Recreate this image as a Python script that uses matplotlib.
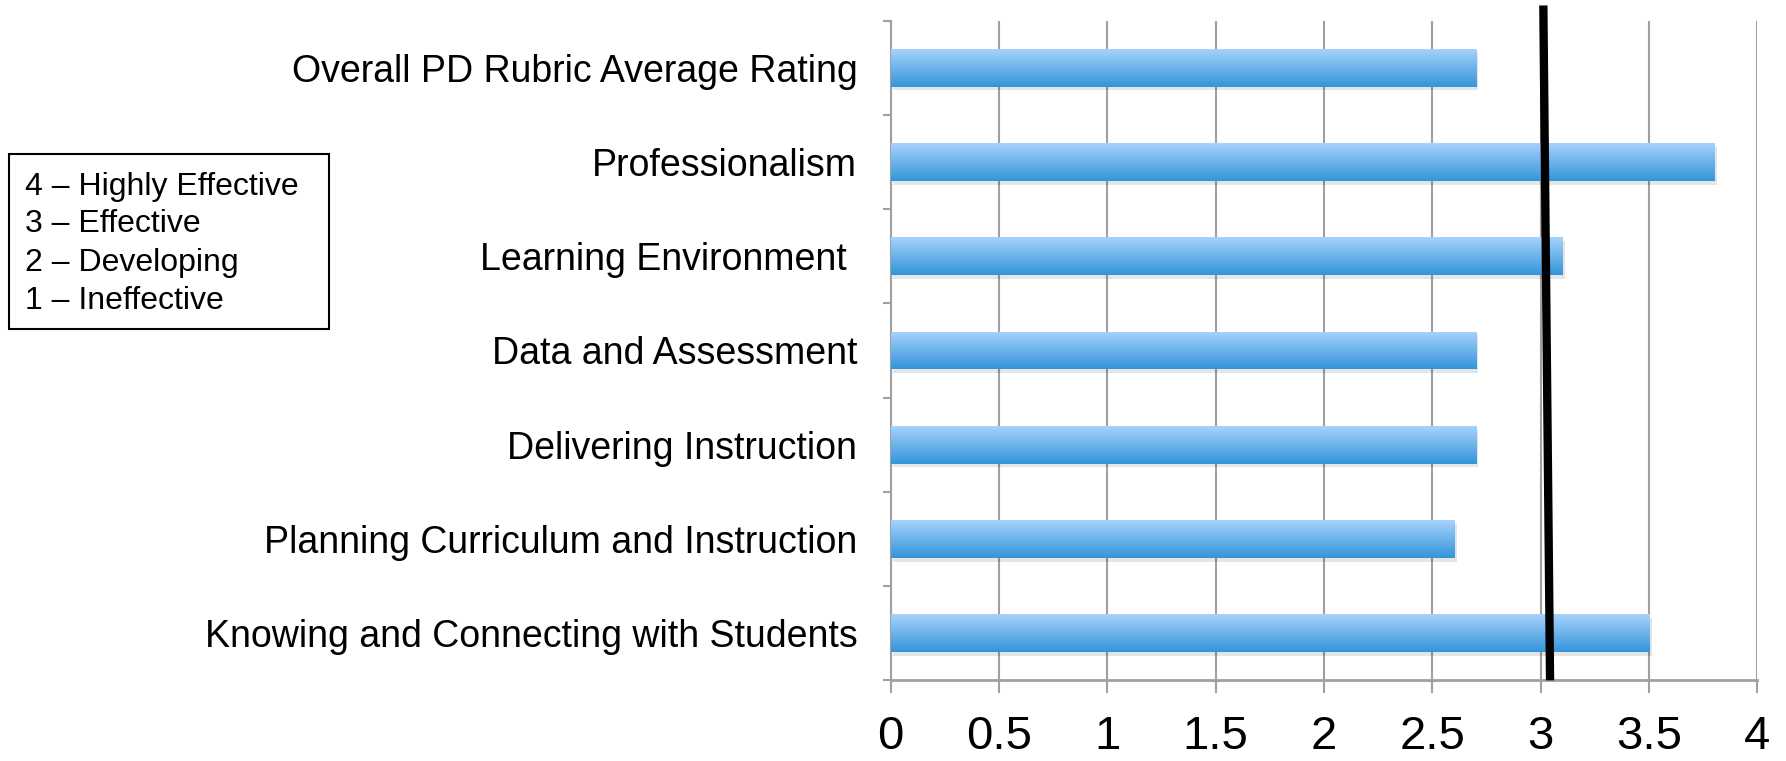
import matplotlib
matplotlib.use("Agg")
import matplotlib.pyplot as plt
import numpy as np
from matplotlib.colors import LinearSegmentedColormap
from matplotlib.patches import Rectangle

categories = ["Knowing and Connecting with Students",
              "Planning Curriculum and Instruction",
              "Delivering Instruction",
              "Data and Assessment",
              "Learning Environment ",
              "Professionalism",
              "Overall PD Rubric Average Rating"]
ratings = [3.5, 2.6, 2.7, 2.7, 3.1, 3.8, 2.7]
xticks = [0, 0.5, 1, 1.5, 2, 2.5, 3, 3.5, 4]
xticklabels = ["0", "0.5", "1", "1.5", "2", "2.5", "3", "3.5", "4"]
target_line = [3.043, 3.012]   # x at bottom, x at top
scale_lines = ["4 \u2013 Highly Effective", "3 \u2013 Effective",
               "2 \u2013 Developing", "1 \u2013 Ineffective"]

plt.rcParams['font.family'] = ['Liberation Sans', 'DejaVu Sans']

fig = plt.figure(figsize=(17.86, 7.61), dpi=100)
ax = fig.add_axes([0.4987, 0.106, 0.4853, 0.867])

ypos = np.arange(len(categories))
bar_h = 0.4
grad = LinearSegmentedColormap.from_list("bar", ["#3495da", "#a6d2fc"])

# soft shadow under bars
ax.barh(ypos - 0.04, ratings, height=bar_h, left=0.012, color="#000000",
        alpha=0.1, zorder=2, linewidth=0)
bars = ax.barh(ypos, ratings, height=bar_h, color="none", zorder=3, linewidth=0)
g = np.linspace(0, 1, 64).reshape(-1, 1)
for b in bars:
    x0, y0 = b.get_x(), b.get_y()
    im = ax.imshow(g, cmap=grad, aspect="auto", origin="lower",
                   extent=[x0, x0 + b.get_width(), y0, y0 + b.get_height()],
                   zorder=3)
    im.set_clip_path(b)

ax.set_xlim(0, 4)
ax.set_ylim(-0.5, len(categories) - 0.5)

# threshold line
ax.plot(target_line, [-0.5, len(categories) - 0.5 + 0.16], color="black",
        linewidth=6, zorder=5, clip_on=False, solid_capstyle="butt")

ax.set_xticks(xticks)
ax.set_xticklabels(xticklabels, fontsize=34)
ax.set_yticks(ypos)
ax.set_yticklabels(categories, fontsize=27)
ax.set_yticks(np.arange(-0.5, len(categories)), minor=True)

ax.grid(axis="x", color="#a0a0a0", linewidth=1.5, zorder=1)
ax.set_axisbelow(True)
for s in ["top", "right"]:
    ax.spines[s].set_visible(False)
ax.spines["left"].set_color("#a0a0a0")
ax.spines["left"].set_linewidth(1.5)
ax.spines["bottom"].set_color("#a0a0a0")
ax.spines["bottom"].set_linewidth(2)

ax.tick_params(axis="x", direction="out", length=9, width=1.5, color="#a0a0a0", pad=16)
ax.tick_params(axis="y", which="major", length=0, pad=24)
ax.tick_params(axis="y", which="minor", direction="out", length=6, width=1.5, color="#a0a0a0")

# rating scale box
fig.patches.append(Rectangle((0.0051, 0.5674), 0.1792, 0.2305, transform=fig.transFigure,
                             facecolor="white", edgecolor="black", linewidth=1.5))
for line, yb in zip(scale_lines, [0.7433, 0.6946, 0.6437, 0.5936]):
    fig.text(0.014, yb, line, fontsize=23, va="baseline", ha="left")

fig.savefig("out.png", dpi=100)
